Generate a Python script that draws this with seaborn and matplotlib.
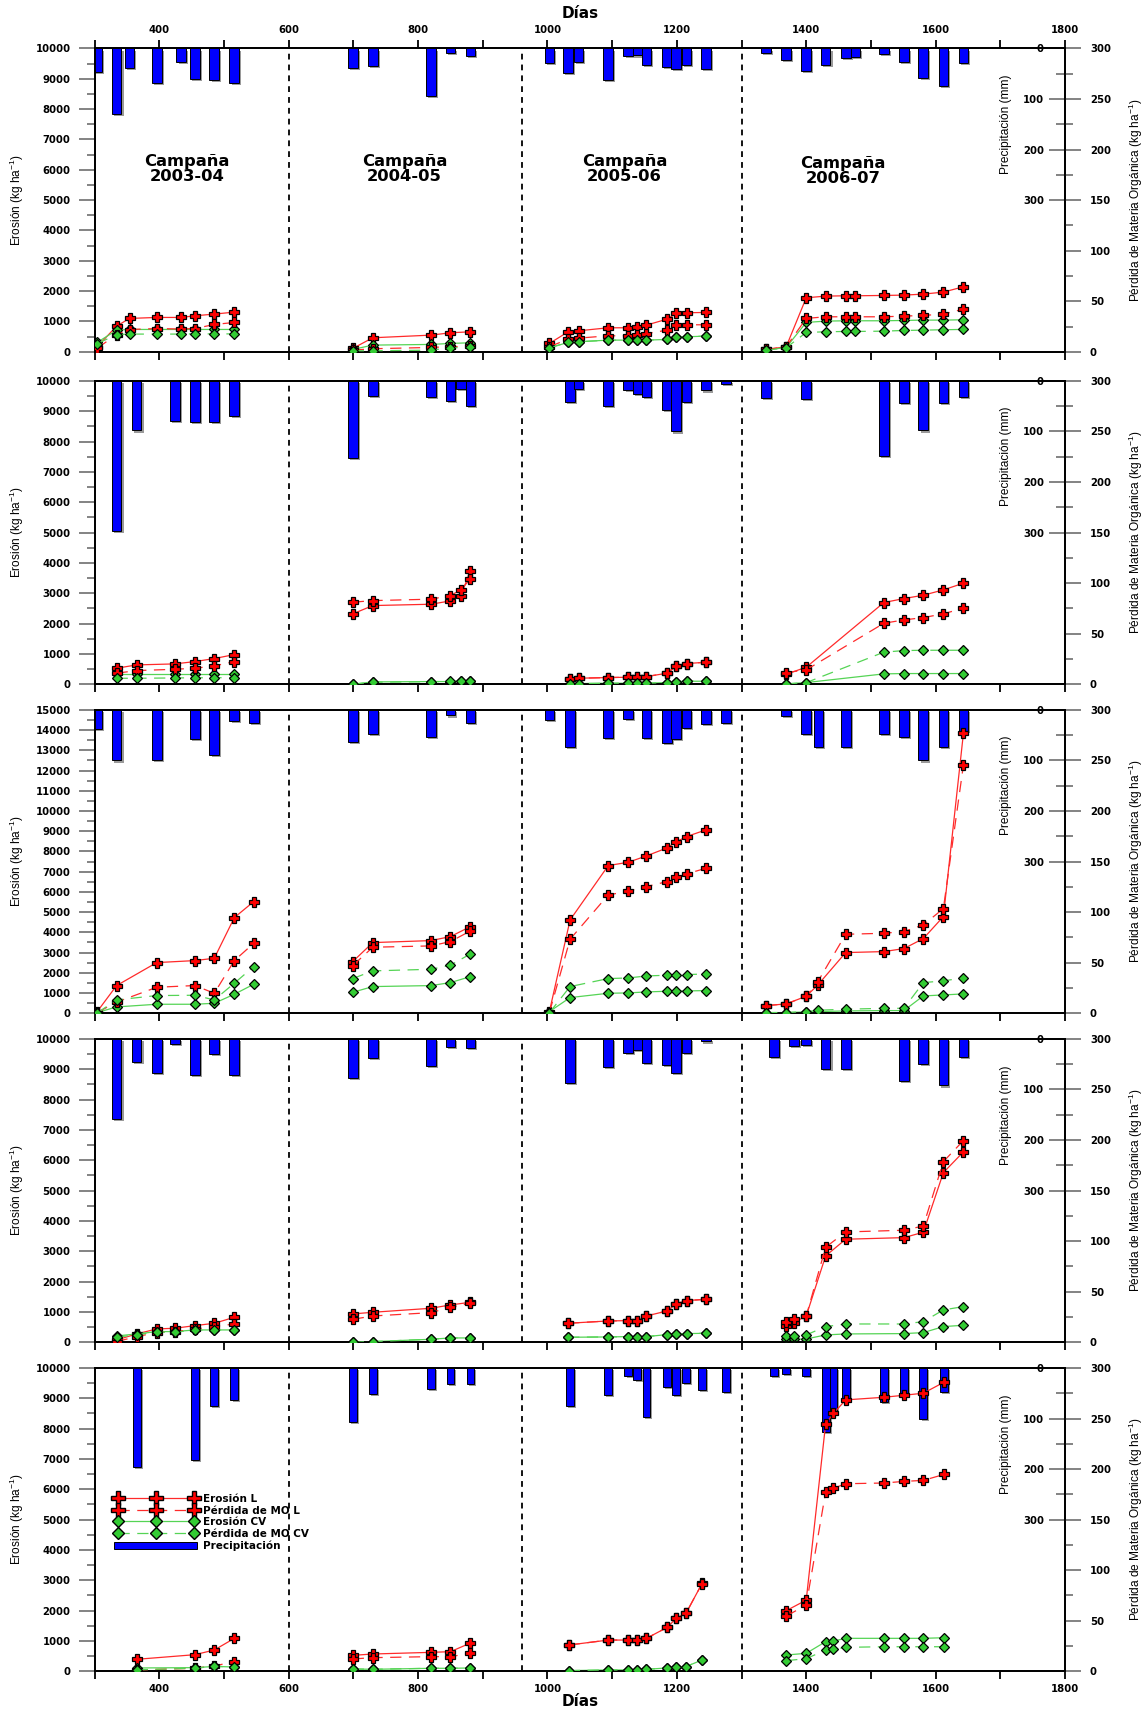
import numpy as np
import pandas as pd
import matplotlib
matplotlib.use("Agg")
import matplotlib.pyplot as plt
import matplotlib.patheffects as pe
import seaborn as sns
from matplotlib.ticker import FixedLocator, MultipleLocator, FuncFormatter
from matplotlib.lines import Line2D
from matplotlib.patches import Patch

plt.rcParams['font.family'] = ['DejaVu Sans']
plt.rcParams['font.weight'] = 'bold'
plt.rcParams['mathtext.default'] = 'regular'

# ---------------------------------------------------------------- data
campanas = ['2003-04', '2004-05', '2005-06', '2006-07']
campana_x = [443, 779, 1119, 1457]
campana_y = [6030, 6030, 6030, 5960]
limites_campana = [600, 960, 1300]

# Parcela 1
p1_dias = [[304, 334, 354, 396, 434, 455, 485, 516],
           [699, 730, 820, 850, 881],
           [1003, 1032, 1048, 1094, 1125, 1139, 1153, 1185, 1199, 1215, 1245],
           [1338, 1369, 1400, 1430, 1461, 1476, 1520, 1551, 1581, 1612, 1643]]
p1_eros_L = [[165, 846, 1099, 1132, 1132, 1187, 1242, 1308],
             [110, 462, 549, 626, 659],
             [275, 659, 692, 791, 791, 802, 879, 1077, 1264, 1286, 1297],
             [77, 165, 1780, 1835, 1846, 1846, 1857, 1868, 1901, 1967, 2143]]
p1_mo_L = [[3.5, 17, 22, 23, 22.5, 23, 27, 29],
           [1.6, 3.0, 4.3, 5.0, 5.5],
           [5, 12.5, 13.5, 15.8, 15.8, 16.5, 18, 21.4, 26.4, 26.7, 26.7],
           [2.3, 4.9, 33, 34.6, 34.6, 34.6, 34.6, 35.3, 35.9, 37.3, 42.2]]
p1_eros_CV = [[308, 714, 736, 736, 736, 736, 736, 736],
              [77, 220, 242, 275, 297],
              [132, 308, 330, 385, 385, 385, 385, 407, 473, 495, 516],
              [55, 143, 967, 1011, 1022, 1022, 1022, 1033, 1044, 1044, 1055]]
p1_mo_CV = [[8, 17, 17.5, 17.5, 17.5, 17.7, 17.7, 17.7],
            [1, 1, 1.6, 4, 4.3],
            [4, 9.2, 9.9, 11.5, 11.5, 11.5, 11.5, 12.2, 14.2, 14.8, 15.5],
            [1.6, 4, 19.1, 19.8, 20.1, 20.1, 20.4, 21.1, 21.4, 21.8, 22.1]]
p1_lluvia_dias = [304, 334, 354, 396, 434, 455, 485, 516,
                  699, 730, 820, 850, 881,
                  1003, 1032, 1048, 1094, 1125, 1139, 1153, 1185, 1199, 1215, 1245,
                  1338, 1369, 1400, 1430, 1461, 1476, 1520, 1551, 1581, 1612, 1643]
p1_lluvia_mm = [46, 129, 38, 68, 27, 61, 63, 69,
                38, 34, 94, 9, 15,
                28, 49, 26, 63, 15, 14, 32, 36, 40, 32, 40,
                9, 22, 44, 32, 18, 17, 11, 26, 59, 75, 28]

# Parcela 2
p2_dias = [[334, 365, 424, 455, 485, 516],
           [699, 730, 820, 850, 866, 881],
           [1035, 1048, 1094, 1125, 1139, 1153, 1185, 1199, 1215, 1245],
           [1369, 1400, 1520, 1551, 1581, 1612, 1643]]
p2_eros_L = [[527, 637, 670, 747, 846, 978],
             [2319, 2593, 2637, 2747, 2912, 3747],
             [176, 198, 220, 231, 253, 253, 363, 604, 681, 725],
             [330, 560, 2693, 2824, 2934, 3110, 3330]]
p2_mo_L = [[10.9, 13.5, 14.8, 15.8, 18.1, 22.4],
           [81.1, 82.7, 84.1, 87.7, 93.3, 104.2],
           [5.3, 5.9, 6.6, 6.9, 7.6, 7.6, 10.9, 18.1, 20.4, 21.8],
           [11.5, 14.2, 60.3, 63.6, 65.9, 69.6, 75.2]]
p2_eros_CV = [[330, 330, 330, 330, 330, 330],
              [0, 77, 88, 88, 99, 110],
              [11, 22, 33, 33, 33, 33, 55, 88, 99, 99],
              [11, 55, 341, 352, 352, 352, 352]]
p2_mo_CV = [[5.9, 5.9, 6.2, 6.4, 6.4, 6.6],
            [0, 2, 2.5, 2.7, 2.8, 3],
            [0.3, 0.6, 1, 1, 1, 1, 1.6, 2.6, 3, 3],
            [0.3, 1.6, 31.7, 33.3, 33.6, 33.6, 33.6]]
p2_lluvia_dias = [334, 365, 424, 455, 485, 516,
                  699, 730, 820, 850, 866, 881,
                  1035, 1048, 1094, 1125, 1139, 1153, 1185, 1199, 1215, 1245, 1276,
                  1338, 1400, 1520, 1551, 1581, 1612, 1643]
p2_lluvia_mm = [297, 98, 80, 82, 82, 70,
                152, 30, 31, 39, 16, 49,
                42, 16, 49, 18, 25, 31, 57, 100, 41, 19, 7,
                34, 35, 148, 43, 98, 43, 31]

# Parcela 3
p3_dias = [[304, 334, 396, 455, 485, 516, 546],
           [699, 730, 820, 850, 881],
           [1003, 1035, 1094, 1125, 1153, 1185, 1199, 1215, 1245],
           [1338, 1369, 1400, 1418, 1461, 1520, 1551, 1581, 1612, 1643]]
p3_eros_L = [[82, 1368, 2505, 2604, 2720, 4730, 5522],
             [2555, 3494, 3593, 3791, 4286],
             [82, 4615, 7302, 7467, 7780, 8176, 8472, 8736, 9066],
             [379, 462, 841, 1401, 3000, 3049, 3198, 3692, 4780, 13846]]
p3_mo_L = [[0.7, 11, 25.7, 27.4, 19.8, 52.1, 69.2],
           [47.1, 65.3, 66.6, 70.9, 81.4],
           [0.7, 73.2, 117, 120.7, 125.3, 130.2, 134.5, 137.8, 143.4],
           [7.6, 9.2, 16.8, 31.3, 78.1, 79.1, 80.8, 87.4, 103.5, 245.6]]
p3_eros_CV = [[33, 313, 445, 445, 494, 940, 1434],
              [1038, 1319, 1368, 1516, 1813],
              [82, 775, 989, 1005, 1055, 1088, 1088, 1104, 1121],
              [33, 33, 66, 82, 115, 132, 132, 857, 906, 956]]
p3_mo_CV = [[0.3, 13.2, 17.5, 17.8, 13.2, 29.7, 46.2],
            [34.3, 41.9, 43.5, 47.5, 58.7],
            [0.5, 26.4, 34.3, 34.9, 36.9, 37.6, 37.6, 38.2, 38.9],
            [0.7, 0.7, 1.6, 3, 4, 4.9, 4.9, 30.3, 32, 35]]
p3_lluvia_dias = [304, 334, 396, 455, 485, 516, 546,
                  699, 730, 820, 850, 881,
                  1003, 1035, 1094, 1125, 1153, 1185, 1199, 1215, 1245, 1276,
                  1369, 1400, 1419, 1461, 1520, 1551, 1581, 1612, 1643]
p3_lluvia_mm = [37, 100, 99, 57, 90, 21, 26,
                63, 48, 53, 11, 25,
                20, 74, 56, 18, 55, 66, 58, 36, 27, 25,
                12, 47, 74, 74, 48, 54, 100, 74, 41]

# Parcela 4
p4_dias = [[334, 365, 396, 424, 455, 485, 516],
           [699, 730, 820, 850, 881],
           [1032, 1094, 1125, 1139, 1153, 1185, 1199, 1215, 1245],
           [1369, 1381, 1400, 1430, 1461, 1551, 1581, 1612, 1643]]
p4_eros_L = [[77, 275, 440, 462, 549, 626, 824],
             [934, 989, 1121, 1231, 1319],
             [627, 703, 714, 714, 868, 1033, 1264, 1374, 1418],
             [540, 650, 867, 2847, 3397, 3450, 3627, 5593, 6277]]
p4_mo_L = [[0.7, 5.6, 9.6, 10.6, 12.9, 15.5, 18.1],
           [22.7, 26, 29.3, 34.6, 38.6],
           [18.8, 21.1, 21.4, 21.4, 26, 31, 37.9, 41.2, 42.5],
           [20.4, 22.7, 26, 94, 109.1, 110.8, 115, 178.7, 199.5]]
p4_eros_CV = [[209, 275, 352, 352, 407, 407, 407],
              [0, 22, 99, 143, 143],
              [165, 176, 187, 187, 187, 253, 264, 286, 297],
              [99, 99, 110, 242, 275, 286, 319, 517, 561]]
p4_mo_CV = [[5, 7.5, 10, 10, 12, 12, 12.2],
            [0, 0.7, 3, 4.3, 4.3],
            [5, 5.3, 5.6, 5.6, 5.6, 7.6, 7.9, 8.6, 8.9],
            [6.6, 6.6, 7.3, 15.5, 18.1, 18.1, 20.4, 32, 35.3]]
p4_lluvia_dias = [334, 365, 396, 424, 455, 485, 516,
                  699, 730, 820, 850, 881,
                  1035, 1094, 1125, 1139, 1153, 1185, 1199, 1215, 1245,
                  1350, 1381, 1400, 1430, 1461, 1551, 1581, 1612, 1643]
p4_lluvia_mm = [158, 45, 67, 10, 71, 29, 72,
                78, 38, 53, 16, 18,
                88, 56, 28, 22, 48, 52, 68, 28, 5,
                36, 14, 12, 60, 59, 84, 50, 92, 36]

# Parcela 5
p5_dias = [[365, 455, 485, 516],
           [699, 730, 820, 850, 881],
           [1033, 1094, 1125, 1139, 1153, 1185, 1199, 1214, 1239],
           [1369, 1400, 1430, 1442, 1461, 1520, 1551, 1581, 1613]]
p5_eros_L = [[395, 548, 702, 1086],
             [526, 570, 625, 647, 932],
             [866, 1030, 1030, 1030, 1086, 1447, 1743, 1908, 2895],
             [1997, 2347, 8157, 8500, 8947, 9033, 9100, 9167, 9530]]
p5_mo_L = [[1.3, 3, 5.3, 9.5],
           [12.2, 13.5, 14.5, 14.5, 17.8],
           [26, 30.9, 30.9, 30.9, 32.6, 43.4, 52.3, 57.2, 86.8],
           [54.6, 65.5, 177.3, 181, 185.5, 186.2, 187.8, 188.8, 194.7]]
p5_eros_CV = [[110, 121, 160, 143],
              [77, 66, 99, 99, 110],
              [22, 44, 44, 55, 66, 110, 143, 154, 373],
              [537, 593, 977, 997, 1087, 1087, 1087, 1087, 1107]]
p5_mo_CV = [[1.5, 3, 5, 4.3],
            [2.3, 2, 3, 3, 3.3],
            [0.7, 1.3, 1.3, 1.6, 2, 3.3, 4.3, 4.6, 11.2],
            [10.5, 12.5, 21, 21.7, 23.7, 24.3, 24.3, 24.3, 24.3]]
p5_lluvia_dias = [365, 455, 485, 516,
                  699, 730, 820, 850, 881,
                  1035, 1094, 1125, 1139, 1153, 1185, 1199, 1214, 1239, 1276,
                  1350, 1369, 1400, 1430, 1442, 1461, 1520, 1551, 1581, 1613]
p5_lluvia_mm = [196, 182, 76, 64,
                107, 52, 42, 32, 32,
                76, 54, 16, 24, 97, 38, 54, 30, 44, 48,
                16, 12, 16, 126, 90, 65, 68, 56, 101, 48]

parcelas = [
    (p1_dias, p1_eros_L, p1_mo_L, p1_eros_CV, p1_mo_CV, p1_lluvia_dias, p1_lluvia_mm, 10000, 15),
    (p2_dias, p2_eros_L, p2_mo_L, p2_eros_CV, p2_mo_CV, p2_lluvia_dias, p2_lluvia_mm, 10000, 15),
    (p3_dias, p3_eros_L, p3_mo_L, p3_eros_CV, p3_mo_CV, p3_lluvia_dias, p3_lluvia_mm, 15000, 15),
    (p4_dias, p4_eros_L, p4_mo_L, p4_eros_CV, p4_mo_CV, p4_lluvia_dias, p4_lluvia_mm, 10000, 15),
    (p5_dias, p5_eros_L, p5_mo_L, p5_eros_CV, p5_mo_CV, p5_lluvia_dias, p5_lluvia_mm, 10000, 12),
]

# ---------------------------------------------------------------- style
PX = 0.72  # points per pixel at 100 dpi
ROJO = '#ff0000'
ROJO_LINEA = '#ff2a2a'
VERDE = '#33cc33'
VERDE_LINEA = '#55d455'
AZUL = '#0000ff'
GRIS_TICK = '#6e6e6e'
DASH = (0, (9, 6))
SOMBRA = [pe.SimplePatchShadow(offset=(1.5, -1.5), shadow_rgbFace='#9a9a9a', alpha=1.0),
          pe.Normal()]

estilos = {
    'eros_L': dict(color=ROJO_LINEA, marker='P', markerfacecolor=ROJO, linestyle='-'),
    'mo_L': dict(color=ROJO_LINEA, marker='P', markerfacecolor=ROJO, linestyle=DASH),
    'eros_CV': dict(color=VERDE_LINEA, marker='D', markerfacecolor=VERDE, linestyle='-'),
    'mo_CV': dict(color=VERDE_LINEA, marker='D', markerfacecolor=VERDE, linestyle=DASH),
}
tam_marcador = {'P': 7.4, 'D': 4.9}


def tabla(dias, valores):
    filas = []
    for c, (d, v) in enumerate(zip(dias, valores)):
        for di, vi in zip(d, v):
            filas.append((campanas[c], di, vi))
    return pd.DataFrame(filas, columns=['campana', 'dia', 'valor'])


def serie(ax, dias, valores, clave):
    st = estilos[clave]
    sns.lineplot(data=tabla(dias, valores), x='dia', y='valor', units='campana',
                 estimator=None, ax=ax, color=st['color'], linestyle=st['linestyle'],
                 linewidth=0.9, marker=st['marker'], markersize=tam_marcador[st['marker']],
                 markerfacecolor=st['markerfacecolor'], markeredgecolor='black',
                 markeredgewidth=0.9, zorder=3)


# panel positions in figure fractions (left, bottom, width, height)
L, W, H = 0.0824, 0.8453, 0.1773
bottoms = [0.7944, 0.6001, 0.4078, 0.2155, 0.0232]

fig = plt.figure(figsize=(11.48, 17.11), dpi=100)

xtick_fmt = FuncFormatter(lambda v, p: f'{int(v)}' if (int(v) % 200 == 0 and v >= 400) else '')

for i, (dias, eL, mL, eCV, mCV, ll_d, ll_mm, ymax, bw) in enumerate(parcelas):
    ax = fig.add_axes([L, bottoms[i], W, H])
    ax2 = ax.twinx()
    ax3 = ax.twinx()
    ax3.set_zorder(1)
    ax.set_zorder(2)
    ax2.set_zorder(3)
    ax.patch.set_visible(False)
    ax2.patch.set_visible(False)

    # precipitation bars hanging from the top
    barras = ax3.bar(ll_d, ll_mm, width=bw, color=AZUL, edgecolor='black',
                     linewidth=0.7, zorder=2)
    for b in barras:
        b.set_path_effects(SOMBRA)
    ax3.set_ylim(600, 0)

    serie(ax, dias, eL, 'eros_L')
    serie(ax, dias, eCV, 'eros_CV')
    serie(ax2, dias, mL, 'mo_L')
    serie(ax2, dias, mCV, 'mo_CV')

    for xv in limites_campana:
        ax.axvline(xv, color='black', linewidth=1.3, linestyle=(0, (3.2, 2.8)), zorder=1)

    ax.set_xlim(300, 1800)
    ax.set_ylim(0, ymax)
    ax2.set_ylim(0, 300)

    # x axis
    ax.xaxis.set_major_locator(FixedLocator(list(range(300, 1801, 100))))
    ax.xaxis.set_major_formatter(xtick_fmt)
    ax.tick_params(axis='x', which='major', length=8 * PX, width=1.3, color='black',
                   direction='out', pad=5 * PX, labelsize=7.3)
    if i == 0:
        ax.tick_params(axis='x', top=True, labeltop=True, labelbottom=False)
    elif i == len(parcelas) - 1:
        ax.tick_params(axis='x', labelbottom=True)
    else:
        ax.tick_params(axis='x', labelbottom=False)
    ax.set_xlabel('')

    # left axis: erosion
    ax.yaxis.set_major_locator(MultipleLocator(1000))
    ax.yaxis.set_minor_locator(MultipleLocator(500))
    ax.tick_params(axis='y', which='major', length=16 * PX, width=1.2, color=GRIS_TICK,
                   pad=8 * PX, labelsize=7.3)
    ax.tick_params(axis='y', which='minor', length=8 * PX, width=1.2, color=GRIS_TICK)
    ax.set_ylabel('Erosión (kg ha$^{-1}$)', fontsize=8.6, fontweight='normal',
                  family='Liberation Sans')
    ax.yaxis.set_label_coords(-0.0707, 0.5)

    # right axis: organic matter loss
    ax2.yaxis.set_major_locator(MultipleLocator(50))
    ax2.yaxis.set_minor_locator(MultipleLocator(25))
    ax2.tick_params(axis='y', which='major', length=16 * PX, width=1.2, color=GRIS_TICK,
                    pad=9 * PX, labelsize=7.3)
    ax2.tick_params(axis='y', which='minor', length=8 * PX, width=1.2, color=GRIS_TICK)
    ax2.set_ylabel('Pérdida de Materia Orgánica (kg ha$^{-1}$)', fontsize=8.6,
                   fontweight='normal', family='Liberation Sans')
    ax2.yaxis.set_label_coords(1.0639, 0.5)
    ax2.set_xlabel('')

    # inner precipitation scale on the right edge
    ax3.yaxis.set_ticks_position('left')
    ax3.yaxis.set_label_position('left')
    ax3.spines['left'].set_position(('axes', 1.0))
    for s in ax3.spines.values():
        s.set_visible(False)
    ax3.yaxis.set_major_locator(FixedLocator([0, 100, 200, 300]))
    ax3.yaxis.set_minor_locator(FixedLocator([50, 150, 250]))
    ax3.tick_params(axis='y', which='major', length=16 * PX, width=1.2, color=GRIS_TICK,
                    pad=5 * PX, labelsize=7.3)
    ax3.tick_params(axis='y', which='minor', length=9 * PX, width=1.2, color=GRIS_TICK)
    ax3.set_ylabel('Precipitación (mm)', fontsize=8.6, fontweight='normal',
                   family='Liberation Sans')
    ax3.yaxis.set_label_coords(0.9454, 0.75)

    for a in (ax, ax2):
        for s in a.spines.values():
            s.set_linewidth(1.3)
            s.set_color('black')

    if i == 0:
        for cx, cy, c in zip(campana_x, campana_y, campanas):
            ax.text(cx, cy, f'Campaña\n{c}', ha='center', va='center',
                    fontsize=11.8, fontweight='bold', linespacing=0.95)

    if i == len(parcelas) - 1:
        handles = [
            Line2D([], [], color=ROJO_LINEA, lw=0.9, marker='P', markersize=7.4,
                   markerfacecolor=ROJO, markeredgecolor='black'),
            Line2D([], [], color=ROJO_LINEA, lw=0.9, linestyle=DASH, marker='P', markersize=7.4,
                   markerfacecolor=ROJO, markeredgecolor='black'),
            Line2D([], [], color=VERDE_LINEA, lw=0.9, marker='D', markersize=4.9,
                   markerfacecolor=VERDE, markeredgecolor='black'),
            Line2D([], [], color=VERDE_LINEA, lw=0.9, linestyle=DASH, marker='D', markersize=4.9,
                   markerfacecolor=VERDE, markeredgecolor='black'),
            Patch(facecolor=AZUL, edgecolor='black', linewidth=0.7),
        ]
        etiquetas = ['Erosión L', 'Pérdida de MO L', 'Erosión CV', 'Pérdida de MO CV',
                     'Precipitación']
        ax.legend(handles, etiquetas, loc='upper left', bbox_to_anchor=(0.0205, 0.585),
                  frameon=False, numpoints=3, handlelength=7.9, handleheight=0.75,
                  handletextpad=0.6, labelspacing=0.16, borderpad=0, borderaxespad=0,
                  markerscale=1.3, prop={'size': 7.5, 'weight': 'bold'})

# axis title for the day scale, above and below the stack
x_centro = L + W / 2
fig.text(x_centro, 1 - 14 / 1711, 'Días', ha='center', va='center',
         fontsize=11, fontweight='bold')
fig.text(x_centro, 1 - 1702 / 1711, 'Días', ha='center', va='center',
         fontsize=11, fontweight='bold')

fig.savefig('out.png', dpi=100)
